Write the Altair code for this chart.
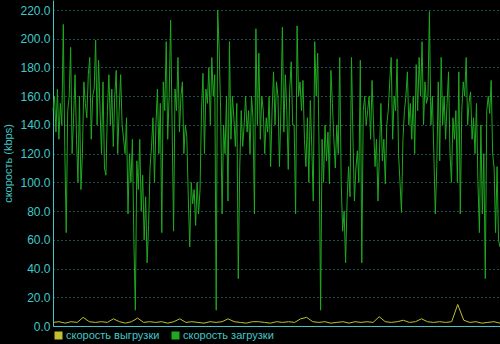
import altair as alt
import pandas as pd

series_names = ["скорость выгрузки", "скорость загрузки"]
series_colors = ["#c0c030", "#20a820"]

download = [
    150, 160, 135, 165, 130, 155, 140, 210, 125, 65, 150, 160, 194, 120, 145, 175, 130, 100, 160, 95,
    120, 170, 155, 145, 175, 187, 130, 160, 165, 199, 140, 185, 150, 120, 170, 110, 105, 150, 175, 140,
    165, 125, 160, 178, 120, 150, 175, 140, 130, 120, 145, 78,
    120, 100, 130, 60, 11, 115, 95, 130, 80, 105, 60, 90, 44, 70, 110, 125, 145, 100, 140, 165,
    120, 155, 65, 170, 150, 198, 130, 160, 213, 140, 66, 165, 150, 187, 135, 160, 170, 120, 140, 132,
    90, 55, 100, 85, 95, 70, 100, 78, 95, 150, 176, 120, 165, 155, 180, 140, 187, 160, 175, 11, 220,
    193, 150, 78, 140, 120, 160, 87, 198, 130, 160, 145, 125, 155, 33, 110, 150, 125, 140, 160, 135,
    150, 120, 160, 145, 78, 207, 140, 190, 130, 160, 150, 120, 145, 135, 160, 111, 150, 177, 140, 170,
    160, 111, 150, 208, 135, 175, 150, 109, 165, 184, 140,
    140, 78, 209, 160, 170, 150, 171, 130, 111, 145, 100, 157, 125, 87, 198, 160, 190, 120, 11, 130,
    100, 140, 115, 135, 99, 178, 155, 130, 110, 140, 120, 187, 100, 66, 80, 44, 87, 111, 90, 187,
    130, 87, 110, 122, 100, 185, 44, 150, 160, 140, 150,
    160, 130, 171, 140, 111, 130, 87, 120, 155, 115, 130, 99, 140, 150, 170, 187, 130, 160, 150, 186,
    120, 100, 79, 130, 150, 160, 177, 140, 155, 130, 160, 120, 182, 150, 187, 160, 198, 140, 170, 155,
    160, 219, 140, 160, 120, 78, 111, 170,
    115, 187, 140, 160, 130, 155, 177, 120, 100, 145, 130, 150, 100, 177, 78, 150, 170, 160, 187, 140,
    156, 163, 130, 145, 120, 155, 100, 65, 140, 78, 120, 33, 150, 160, 148, 171, 120, 110, 65, 111,
    60, 55,
]

upload = [
    2.5, 3, 2, 3, 2.5, 6, 3, 2.5, 3, 2.5, 5, 3, 2, 3, 5.5, 2.5, 3, 2.5, 3, 2,
    3, 5, 2.5, 3, 2.5, 2, 3, 2.5, 3, 5, 3, 2.5, 2, 3, 3, 2.5, 2, 3, 2.5, 3,
    2.5, 5, 6, 3, 2.5, 3, 2, 2.5, 3, 2, 3, 2.5, 3, 2.5, 6.5, 3, 2.5, 3, 4, 2.5,
    3, 5, 3, 2.5, 3, 2.5, 3, 15, 4, 2.5, 3, 2, 2.5, 3, 2,
]

y_ticks = [0, 20, 40, 60, 80, 100, 120, 140, 160, 180, 200, 220]

n = len(download)
m = len(upload)
df_down = pd.DataFrame({
    "t": list(range(n)),
    "v": download,
    "s": series_names[1],
})
df_up = pd.DataFrame({
    "t": [i * (n - 1) / (m - 1) for i in range(m)],
    "v": upload,
    "s": series_names[0],
})

cyan = "#40c8c8"

x_enc = alt.X("t:Q", scale=alt.Scale(domain=[0, n - 1], nice=False, zero=False),
              axis=alt.Axis(labels=False, ticks=False, grid=False, title=None,
                            domainColor=cyan, domainWidth=1))
y_enc = alt.Y("v:Q", scale=alt.Scale(domain=[0, 227], nice=False),
              axis=alt.Axis(values=y_ticks, format=".1f", title="скорость (kbps)",
                            tickSize=0, labelPadding=3, titlePadding=6,
                            grid=True, gridColor="#30a0a0", gridDash=[1, 3],
                            domainColor=cyan, labelColor=cyan, titleColor=cyan,
                            labelFont="Liberation Sans", labelFontSize=12,
                            titleFont="Liberation Sans", titleFontSize=11,
                            titleFontWeight="normal"))
color_enc = alt.Color("s:N", scale=alt.Scale(domain=series_names, range=series_colors),
                      legend=alt.Legend(orient="none", legendX=0, legendY=330,
                                        direction="horizontal", title=None,
                                        symbolType="square", symbolSize=9,
                                        symbolStrokeWidth=5,
                                        labelColor=cyan, labelFont="Liberation Sans",
                                        labelFontSize=11, columnPadding=4,
                                        labelOffset=2))

green = alt.Chart(df_down).mark_line(strokeWidth=1).encode(
    x=x_enc, y=y_enc, color=color_enc)
yellow = alt.Chart(df_up).mark_line(strokeWidth=1).encode(
    x=x_enc, y=y_enc, color=color_enc)

chart = alt.layer(green, yellow).properties(
    width=447, height=326,
    autosize=alt.AutoSizeParams(type="none"),
    padding={"left": 53, "top": 0, "right": 0, "bottom": 18},
    background="black",
).configure_view(stroke=None)

chart.save("out.html", embed_options={"renderer": "svg", "actions": False})
